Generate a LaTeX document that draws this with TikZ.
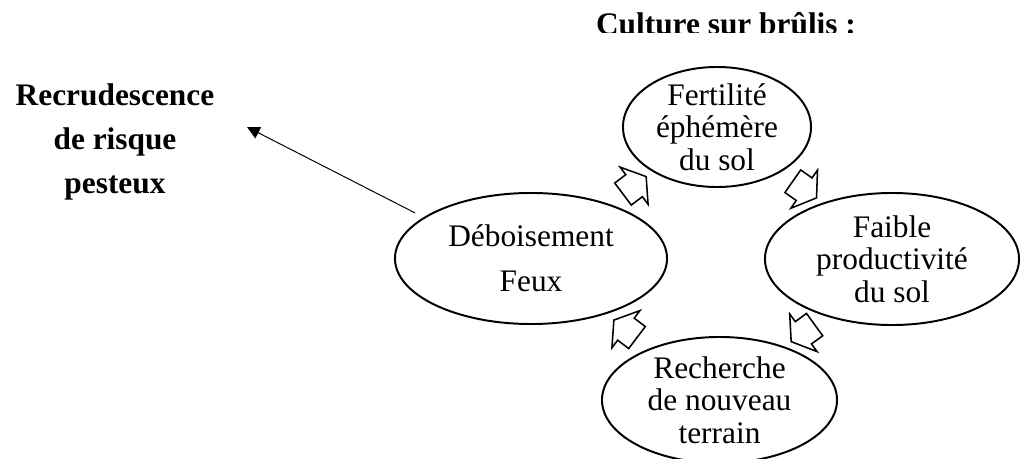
\documentclass[tikz,border=0pt]{standalone}
\usepackage{fontspec}
\setmainfont{Liberation Serif}
\usetikzlibrary{shapes, arrows.meta}

\begin{document}
\begin{tikzpicture}[x=0.025cm, y=0.025cm,
  etape/.style={draw, ellipse, line width=1.4pt, inner sep=-12pt, align=center, font=\fontsize{22.3}{23.1}\selectfont},
  fleche/.style={draw, single arrow, line width=1.1pt, inner xsep=0pt, inner ysep=9.25pt, minimum width=0pt, minimum height=20.6pt, single arrow head extend=6.75pt, single arrow tip angle=114},
  titre/.style={font=\bfseries\fontsize{22.3}{31}\selectfont, align=center}]
  \useasboundingbox (0,0) rectangle (1020,-459);

  % titre coupe en bas
  \begin{scope}
    \clip (0,0) rectangle (1020,-33);
    \node[titre, anchor=base] (culture) at (726,-35) {Culture sur brûlis :};
  \end{scope}
  \node[titre] (risque) at (115,-142) {Recrudescence\\de risque\\pesteux};

  \node[etape, minimum width=6.8cm, minimum height=3.275cm] (deb) at (531,-258.5) {Déboisement\\[9pt]Feux};
  \node[etape, minimum width=4.7cm, minimum height=3cm] (fert) at (717,-127) {Fertilité\\éphémère\\du sol};
  \node[etape, minimum width=6.35cm, minimum height=3.3cm] (faible) at (892,-259) {Faible\\productivité\\du sol};
  \node[etape, minimum width=5.875cm, minimum height=3.15cm] (rech) at (719.5,-400) {Recherche\\de nouveau\\terrain};

  \node[fleche, rotate=37] (f1) at (631,-188) {};
  \node[fleche, rotate=-35] (f2) at (801,-187) {};
  \node[fleche, rotate=-144] (f3) at (806.5,-330.5) {};
  \node[fleche, rotate=143] (f4) at (629,-331.5) {};

  \coordinate (pointe) at (247,-127);
  \draw[-{Triangle[length=9pt,width=9pt]}, line width=0.7pt, shorten <=6.8pt] (deb.159) -- (pointe);
\end{tikzpicture}
\end{document}
